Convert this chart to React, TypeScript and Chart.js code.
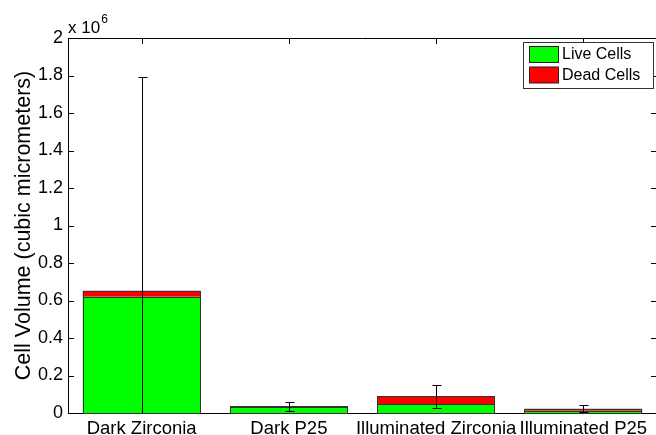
import React, { useEffect, useRef } from "react";
import { Chart, registerables } from "chart.js";

Chart.register(...registerables);

const categories = ["Dark Zirconia", "Dark P25", "Illuminated Zirconia", "Illuminated P25"];
const liveCells = [620000, 34000, 46000, 12000];
const deadCells = [32000, 2000, 42500, 11000];
const errors = [1140000, 25000, 60000, 18000];
const yTicks = [0, 200000, 400000, 600000, 800000, 1000000, 1200000, 1400000, 1600000, 1800000, 2000000];

const FONT = "'Liberation Sans', Arial, Helvetica, sans-serif";

const overlayPlugin = {
  id: "matlabOverlay",
  beforeDatasetsDraw(chart: any) {
    const { ctx, chartArea, scales } = chart;
    const { left, right, top, bottom } = chartArea;
    ctx.save();
    ctx.strokeStyle = "#000";
    ctx.lineWidth = 1;
    ctx.beginPath();
    ctx.moveTo(left, Math.round(top) + 0.5);
    ctx.lineTo(right, Math.round(top) + 0.5);
    ctx.moveTo(Math.round(right) - 0.5, top);
    ctx.lineTo(Math.round(right) - 0.5, bottom);
    ctx.stroke();
    ctx.beginPath();
    yTicks.forEach((v) => {
      const y = Math.round(scales.y.getPixelForValue(v)) + 0.5;
      ctx.moveTo(left, y);
      ctx.lineTo(left + 6, y);
      ctx.moveTo(right, y);
      ctx.lineTo(right - 6, y);
    });
    categories.forEach((_, i) => {
      const x = Math.round(scales.x.getPixelForValue(i)) + 0.5;
      ctx.moveTo(x, top);
      ctx.lineTo(x, top + 6);
      ctx.moveTo(x, bottom);
      ctx.lineTo(x, bottom - 6);
    });
    ctx.stroke();
    ctx.restore();
  },
  afterDatasetsDraw(chart: any) {
    const { ctx, chartArea, scales } = chart;
    ctx.save();
    ctx.strokeStyle = "#333";
    ctx.lineWidth = 1;
    chart.data.datasets.forEach((_: any, di: number) => {
      const meta = chart.getDatasetMeta(di);
      meta.data.forEach((bar: any) => {
        const p = bar.getProps(["x", "y", "base", "width"], true);
        const x0 = Math.round(p.x - p.width / 2) + 0.5;
        const x1 = Math.round(p.x + p.width / 2) - 0.5;
        const yT = Math.round(Math.min(p.y, p.base)) + 0.5;
        const yB = Math.round(Math.max(p.y, p.base)) + 0.5;
        ctx.strokeRect(x0, yT, x1 - x0, yB - yT);
      });
    });
    ctx.beginPath();
    ctx.rect(chartArea.left, chartArea.top, chartArea.right - chartArea.left, chartArea.bottom - chartArea.top);
    ctx.clip();
    ctx.strokeStyle = "#000";
    ctx.beginPath();
    categories.forEach((_, i) => {
      const total = liveCells[i] + deadCells[i];
      const x = Math.round(scales.x.getPixelForValue(i)) + 0.5;
      const yT = Math.round(scales.y.getPixelForValue(total + errors[i])) + 0.5;
      const yB = Math.round(scales.y.getPixelForValue(total - errors[i])) + 0.5;
      ctx.moveTo(x, yT);
      ctx.lineTo(x, yB);
      ctx.moveTo(x - 4, yT);
      ctx.lineTo(x + 5, yT);
      ctx.moveTo(x - 4, yB);
      ctx.lineTo(x + 5, yB);
    });
    ctx.stroke();
    ctx.restore();
  },
  afterDraw(chart: any) {
    const { ctx, chartArea } = chart;
    ctx.save();
    ctx.fillStyle = "#000";
    ctx.textBaseline = "alphabetic";
    ctx.textAlign = "left";
    ctx.font = `17px ${FONT}`;
    ctx.fillText("x 10", chartArea.left, 33);
    const w = ctx.measureText("x 10").width;
    ctx.font = `12px ${FONT}`;
    ctx.fillText("6", chartArea.left + w + 1, 23);

    const bx = 523.5, by = 42.5, bw = 130, bh = 46;
    ctx.fillStyle = "#fff";
    ctx.fillRect(bx, by, bw, bh);
    ctx.strokeStyle = "#333";
    ctx.lineWidth = 1;
    ctx.strokeRect(bx, by, bw, bh);
    const ds = chart.data.datasets;
    [ds[0], ds[1]].forEach((d: any, i: number) => {
      const sy = 46.5 + i * 20.5;
      ctx.fillStyle = d.backgroundColor;
      ctx.fillRect(529.5, sy, 29, 16);
      ctx.strokeStyle = "#222";
      ctx.strokeRect(529.5, sy, 29, 16);
      ctx.fillStyle = "#000";
      ctx.font = `16px ${FONT}`;
      ctx.textBaseline = "middle";
      ctx.fillText(d.label, 562, sy + 8.5);
    });
    ctx.restore();
  },
};

export default function App() {
  const ref = useRef<HTMLCanvasElement | null>(null);
  useEffect(() => {
    if (!ref.current) return;
    Chart.defaults.font.family = FONT;
    const chart = new Chart(ref.current, {
      type: "bar",
      data: {
        labels: categories,
        datasets: [
          {
            label: "Live Cells",
            data: liveCells,
            backgroundColor: "#00ff00",
            borderWidth: 0,
            barPercentage: 0.8,
            categoryPercentage: 1,
          },
          {
            label: "Dead Cells",
            data: deadCells,
            backgroundColor: "#ff0000",
            borderWidth: 0,
            barPercentage: 0.8,
            categoryPercentage: 1,
          },
        ],
      },
      options: {
        animation: false,
        responsive: false,
        devicePixelRatio: 1,
        layout: { padding: { top: 38, right: 13, left: 0, bottom: 0 } },
        plugins: {
          legend: { display: false },
          tooltip: { enabled: false },
        },
        scales: {
          x: {
            stacked: true,
            grid: { display: false, drawTicks: false },
            border: { display: true, color: "#000", width: 1 },
            ticks: {
              font: { size: 18.5, family: FONT },
              color: "#000",
              padding: 5,
              maxRotation: 0,
              autoSkip: false,
            },
            afterFit: (s: any) => {
              s.height = 22;
            },
          },
          y: {
            stacked: true,
            min: 0,
            max: 2000000,
            grid: { display: false, drawTicks: false },
            border: { display: true, color: "#000", width: 1 },
            afterBuildTicks: (s: any) => {
              s.ticks = yTicks.map((v) => ({ value: v }));
            },
            ticks: {
              font: { size: 18, family: FONT },
              color: "#000",
              padding: 5,
              callback: (v: any) => String(Math.round(Number(v) / 100000) / 10),
            },
            title: {
              display: true,
              text: "Cell Volume (cubic micrometers)",
              font: { size: 21.5, family: FONT },
              color: "#000",
              padding: { top: 11, bottom: 0 },
            },
            afterFit: (s: any) => {
              s.width = 68;
            },
          },
        },
      },
      plugins: [overlayPlugin],
    });
    return () => chart.destroy();
  }, []);
  return (
    <div style={{ position: "fixed", left: 0, top: 0, width: 656, height: 435, overflow: "hidden", background: "#fff" }}>
      <canvas ref={ref} width={670} height={435} style={{ display: "block" }} />
    </div>
  );
}
